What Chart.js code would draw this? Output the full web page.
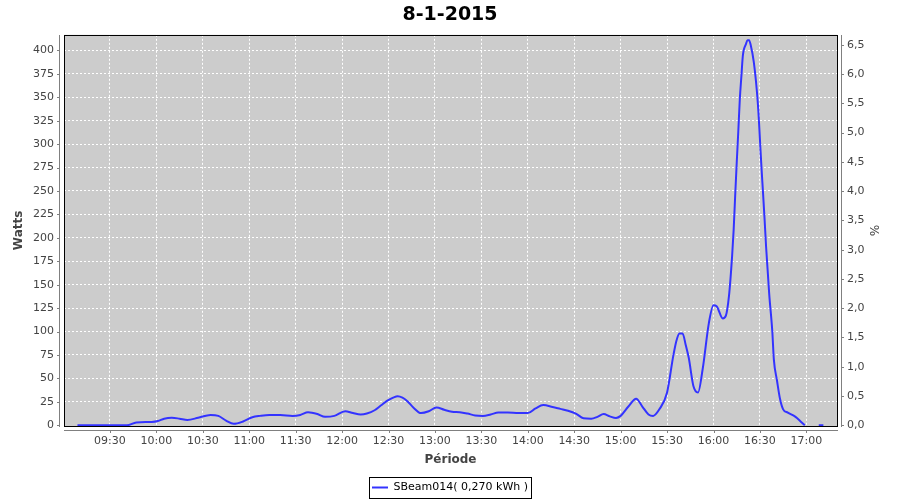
<!DOCTYPE html>
<html><head><meta charset="utf-8">
<script src="https://cdn.jsdelivr.net/npm/chart.js@4.4.0/dist/chart.umd.min.js"></script>
<style>html,body{margin:0;padding:0;background:#fff}</style>
</head><body>
<canvas id="c" width="900" height="500"></canvas>
<script>
const chartTitle = '8-1-2015';
const seriesLabel = 'SBeam014( 0,270 kWh )';
const yTitle = 'Watts';
const y2Title = '%';
const xTitle = 'Période';

const times = ['09:09','09:25','09:41','09:47','09:57','10:01','10:05','10:10','10:15','10:20','10:27','10:35','10:40','10:45','10:50','10:56','11:02','11:07','11:13','11:20','11:28','11:33','11:38','11:44','11:49','11:55','12:02','12:07','12:12','12:16','12:21','12:25','12:29','12:33','12:36','12:39','12:42','12:46','12:51','12:56','13:01','13:06','13:11','13:16','13:21','13:26','13:31','13:36','13:41','13:47','13:54','14:00','14:05','14:10','14:16','14:21','14:26','14:31','14:36','14:41','14:45','14:49','14:53','14:57','15:00','15:05','15:10','15:14','15:18','15:21','15:25','15:30','15:34','15:36','15:38','15:40','15:42','15:44','15:47','15:50','15:53','15:57','16:00','16:02','16:06','16:08','16:10','16:12','16:13','16:14','16:15','16:16','16:17','16:18','16:19','16:21','16:22','16:23','16:24','16:26','16:28','16:29','16:30','16:31','16:32','16:33','16:34','16:36','16:38','16:39','16:41','16:43','16:45','16:48','16:53','16:57','16:59','17:04','17:08','17:11'];
const watts = [0,0,0,3,3.5,4.5,7,8,7,5.6,8,11,10,5,1.5,4,8.5,10,11,11,10,11,13.8,12,9,10,15,13,11.5,12.5,16,21,26,29.5,31,29.5,26,19,13,15,19,16.5,14.5,14,12.5,10.5,10,11.5,13.5,13.5,13,13,18,21.6,19.5,17.5,15.5,12.5,7.5,7,9,12,9.5,7.8,10,20,28.4,20,11.5,10,17,35,74,90,98,98,86,72,42,35,60,109,128,127,114,117,138,180,208,245,280,313,348,372,395,407,411,411,406,388,357,335,305,275,248,220,190,140,100,70,48,28,17,13.5,9,3,0,null,0,0];

const xTickLabels = ['09:30','10:00','10:30','11:00','11:30','12:00','12:30','13:00','13:30','14:00','14:30','15:00','15:30','16:00','16:30','17:00'];

const toMin = s => { const [h, m] = s.split(':').map(Number); return h * 60 + m; };
const fmt = v => { const h = Math.floor(v / 60), m = Math.round(v % 60); return String(h).padStart(2, '0') + ':' + String(m).padStart(2, '0'); };

const points = times.map((t, i) => ({ x: toMin(t), y: watts[i] }));

const FONT = 'DejaVu Sans';
const tickColor = '#444444';
const Y_MIN = -0.8, Y_MAX = 416.7, Y2_MAX = 6.671;
const Y2_MIN = Y_MIN / Y_MAX * Y2_MAX;

const decor = {
  id: 'decor',
  beforeDraw(chart) {
    const { ctx, chartArea: a } = chart;
    ctx.save();
    ctx.fillStyle = '#cccccc';
    ctx.fillRect(a.left, a.top, a.right - a.left, a.bottom - a.top);
    ctx.restore();
  },
  afterDatasetsDraw(chart) {
    const { ctx, chartArea: a } = chart;
    const xs = chart.scales.x, ys = chart.scales.y, yr = chart.scales.y2;
    const L = Math.round(a.left), R = Math.round(a.right), T = Math.round(a.top), B = Math.round(a.bottom);
    ctx.save();
    ctx.strokeStyle = '#000000';
    ctx.lineWidth = 1;
    ctx.strokeRect(L + 0.5, T + 0.5, R - L, B - T);
    ctx.strokeStyle = '#808080';
    ctx.beginPath();
    const lx = L - 4.5;
    ctx.moveTo(lx, T); ctx.lineTo(lx, B + 1);
    ys.ticks.forEach(t => { const p = Math.round(ys.getPixelForValue(t.value)) + 0.5; ctx.moveTo(lx - 2.5, p); ctx.lineTo(lx, p); });
    const rx = R + 4.5;
    ctx.moveTo(rx, T); ctx.lineTo(rx, B + 1);
    yr.ticks.forEach(t => { const p = Math.round(yr.getPixelForValue(t.value)) + 0.5; ctx.moveTo(rx, p); ctx.lineTo(rx + 2.5, p); });
    const by = B + 4.5;
    ctx.moveTo(L, by); ctx.lineTo(R + 1, by);
    xs.ticks.forEach(t => { const p = Math.round(xs.getPixelForValue(t.value)) + 0.5; ctx.moveTo(p, by); ctx.lineTo(p, by + 2.5); });
    ctx.stroke();
    ctx.restore();
  },
  afterDraw(chart) {
    const hb = chart.legend && chart.legend.legendHitBoxes && chart.legend.legendHitBoxes[0];
    if (!hb) return;
    const ctx = chart.ctx;
    ctx.save();
    ctx.strokeStyle = '#000000';
    ctx.lineWidth = 1;
    const cy = hb.top + hb.height / 2;
    ctx.strokeRect(Math.round(hb.left - 3) + 0.5, Math.round(cy - 11) + 0.5, Math.round(hb.width + 6), 21);
    ctx.restore();
  }
};

new Chart(document.getElementById('c'), {
  type: 'line',
  data: {
    datasets: [{
      label: seriesLabel,
      data: points,
      borderColor: '#3333ff',
      backgroundColor: '#3333ff',
      borderWidth: 2,
      pointRadius: 0,
      pointHoverRadius: 0,
      cubicInterpolationMode: 'monotone',
      spanGaps: false,
      fill: false,
      yAxisID: 'y'
    }]
  },
  options: {
    responsive: false,
    animation: false,
    devicePixelRatio: 1,
    layout: { padding: { left: 0, right: 0, top: 0, bottom: -3 } },
    plugins: {
      title: {
        display: true, text: chartTitle, color: '#000000',
        font: { family: FONT, size: 19, weight: 'bold' },
        padding: { top: 4, bottom: 8 }
      },
      legend: {
        display: true, position: 'bottom',
        labels: {
          usePointStyle: true, pointStyle: 'line', pointStyleWidth: 16,
          color: '#000000', font: { family: FONT, size: 11 }, padding: 10
        }
      },
      tooltip: { enabled: false }
    },
    scales: {
      x: {
        type: 'linear', position: 'bottom', min: 540.3, max: 1039.8,
        afterBuildTicks: s => { s.ticks = xTickLabels.map(l => ({ value: toMin(l) })); },
        afterFit: s => { s.height = 46; },
        ticks: { callback: v => fmt(v), color: tickColor, font: { family: FONT, size: 11 }, padding: 9, maxRotation: 0, autoSkip: false },
        grid: { color: '#ffffff', lineWidth: 1, drawTicks: false },
        border: { display: false, dash: [2, 2] },
        title: { display: true, text: xTitle, color: tickColor, font: { family: FONT, size: 12, weight: 'bold' }, padding: { top: 0, bottom: 5 } }
      },
      y: {
        type: 'linear', position: 'left', min: Y_MIN, max: Y_MAX,
        afterFit: s => { s.width = 64; },
        ticks: { stepSize: 25, includeBounds: false, autoSkip: false, color: tickColor, font: { family: FONT, size: 11 }, padding: 10 },
        grid: { color: c => (c.tick && c.tick.value === 0) ? 'rgba(0,0,0,0)' : '#ffffff', lineWidth: 1, drawTicks: false },
        border: { display: false, dash: [2, 2] },
        title: { display: true, text: yTitle, color: tickColor, font: { family: FONT, size: 12, weight: 'bold' }, padding: { top: 12, bottom: 0 } }
      },
      y2: {
        type: 'linear', position: 'right', min: Y2_MIN, max: Y2_MAX,
        afterFit: s => { s.width = 63; },
        ticks: { stepSize: 0.5, includeBounds: false, autoSkip: false, color: tickColor, font: { family: FONT, size: 11 }, padding: 10,
          callback: v => v.toFixed(1).replace('.', ',') },
        grid: { drawOnChartArea: false, drawTicks: false },
        border: { display: false },
        title: { display: true, text: y2Title, color: tickColor, font: { family: FONT, size: 12 }, padding: { top: 20, bottom: 0 } }
      }
    }
  },
  plugins: [decor]
});
</script>
</body></html>
